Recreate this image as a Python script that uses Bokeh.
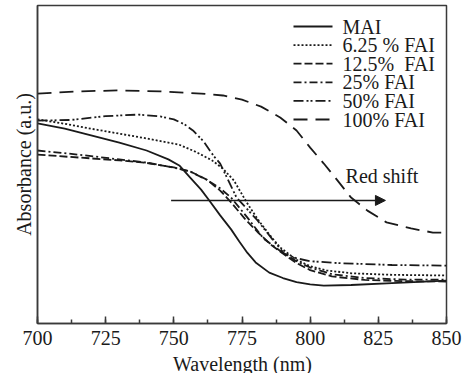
from bokeh.plotting import figure
from bokeh.models import (Range1d, SingleIntervalTicker, FixedTicker, Arrow, NormalHead, Label)
from bokeh.embed import file_html
from bokeh.resources import INLINE

# ---- data ----
mai_x = [700, 710, 720, 730, 740, 748, 752, 756, 760, 763, 767, 771, 774, 777, 780, 785, 790, 795, 800, 805, 815, 830, 850]
mai_y = [.629, .613, .591, .569, .544, .516, .497, .459, .421, .387, .340, .296, .258, .222, .192, .160, .143, .130, .123, .119, .121, .127, .135]

fai625_x = [700, 710, 720, 730, 740, 748, 752, 758, 764, 768, 772, 777, 781, 785, 789, 795, 800, 806, 815, 830, 850]
fai625_y = [.642, .628, .612, .597, .582, .569, .562, .540, .513, .487, .450, .377, .325, .280, .239, .200, .180, .167, .158, .153, .151]

fai125_x = [700, 715, 730, 740, 750, 756, 762, 767, 771, 776, 781, 786, 790, 795, 800, 808, 820, 835, 850]
fai125_y = [.531, .522, .513, .505, .491, .478, .453, .418, .381, .330, .285, .245, .220, .190, .168, .148, .137, .133, .132]

fai25_x = [700, 715, 730, 740, 750, 756, 762, 767, 771, 777, 783, 790, 795, 800, 808, 820, 835, 850]
fai25_y = [.544, .531, .516, .506, .490, .478, .452, .425, .396, .333, .266, .222, .196, .176, .155, .143, .138, .138]

fai50_x = [700, 712, 725, 737, 745, 750, 754, 757, 761, 764.5, 767, 773, 780.7, 786.5, 790.5, 795, 800, 810, 830, 850]
fai50_y = [.638, .640, .652, .657, .651, .642, .626, .607, .572, .528, .503, .396, .324, .261, .220, .205, .196, .190, .184, .182]

fai100_x = [700, 715, 730, 745, 760, 768, 775, 782, 789, 795, 800, 805, 810, 815, 821, 828, 837, 845, 850]
fai100_y = [.723, .730, .733, .730, .723, .717, .704, .682, .648, .607, .553, .503, .450, .396, .355, .318, .299, .286, .286]

series_labels = ["MAI", "6.25 % FAI", "12.5%\u00a0 FAI", "25% FAI", "50% FAI", "100% FAI"]
x_title = "Wavelength (nm)"
y_title = "Absorbance (a.u.)"
arrow_x = [749, 827.6]
arrow_y = 0.387
note_text = "Red shift"
note_x = 813
note_y = 0.465

FONT = "Liberation Serif"
INK = "#1a1a1a"
FRAME = "#3a3a3a"

p = figure(width=465, height=373, output_backend="svg", toolbar_location=None,
           x_range=Range1d(700, 850), y_range=Range1d(0, 1),
           min_border_left=37, min_border_right=19, min_border_top=5, min_border_bottom=50)
p.background_fill_color = "white"
p.border_fill_color = "white"
p.xgrid.visible = False
p.ygrid.visible = False
p.outline_line_color = FRAME
p.outline_line_width = 1.5

xa = p.xaxis[0]
xa.ticker = SingleIntervalTicker(interval=25, num_minor_ticks=2)
xa.major_tick_in = 7
xa.major_tick_out = 0
xa.minor_tick_in = 4
xa.minor_tick_out = 0
xa.major_tick_line_color = FRAME
xa.minor_tick_line_color = FRAME
xa.major_tick_line_width = 1.5
xa.minor_tick_line_width = 1.5
xa.axis_line_color = FRAME
xa.axis_line_width = 1.5
xa.major_label_text_font = FONT
xa.major_label_text_font_size = "20px"
xa.major_label_text_color = INK
xa.major_label_standoff = 7

ya = p.yaxis[0]
ya.ticker = FixedTicker(ticks=[])
ya.axis_line_color = FRAME
ya.axis_line_width = 1.5
ya.major_tick_line_color = None
ya.minor_tick_line_color = None
ya.axis_label = y_title
ya.axis_label_text_font = FONT
ya.axis_label_text_font_size = "20px"
ya.axis_label_text_font_style = "normal"
ya.axis_label_text_color = INK
ya.axis_label_standoff = 3

# x-axis title placed in the bottom side panel
p.add_layout(Label(x=205, y=6, x_units="screen", y_units="screen", text=x_title,
                   text_font=FONT, text_font_size="20px", text_color=INK,
                   text_align="center", text_baseline="alphabetic"), "below")

lw = 1.8
dashes = ["solid", "2 2", "8 3", "8 3 2 3", "10 3 2 2 2 3", "14 8"]
series = [(mai_x, mai_y), (fai625_x, fai625_y), (fai125_x, fai125_y),
          (fai25_x, fai25_y), (fai50_x, fai50_y), (fai100_x, fai100_y)]
for (xs, ys), d in zip(series, dashes):
    p.line(xs, ys, line_color=INK, line_width=lw, line_dash=d)

# ---- legend drawn as annotations in screen units (relative to the plot frame) ----
leg_x0, leg_x1, leg_tx = 256, 295, 305      # glyph start/end, text start
leg_top, leg_step = 297, 18.6               # first row centre above frame bottom, row pitch
for i, (lab, d) in enumerate(zip(series_labels, dashes)):
    yy = leg_top - i * leg_step
    p.add_layout(Arrow(end=None, x_start=leg_x0, y_start=yy, x_end=leg_x1, y_end=yy,
                       start_units="screen", end_units="screen",
                       line_color=INK, line_width=lw, line_dash=d))
    p.add_layout(Label(x=leg_tx, y=yy, x_units="screen", y_units="screen", text=lab,
                       text_font=FONT, text_font_size="20px", text_color=INK,
                       text_baseline="middle"))

p.add_layout(Arrow(end=NormalHead(size=10, fill_color=INK, line_color=INK),
                   x_start=arrow_x[0], y_start=arrow_y, x_end=arrow_x[1], y_end=arrow_y,
                   line_color=INK, line_width=1.5))
p.add_layout(Label(x=note_x, y=note_y, text=note_text, text_font=FONT, text_font_size="20px",
                   text_color=INK, text_baseline="middle"))

open("out.html", "w").write(file_html(p, INLINE))
